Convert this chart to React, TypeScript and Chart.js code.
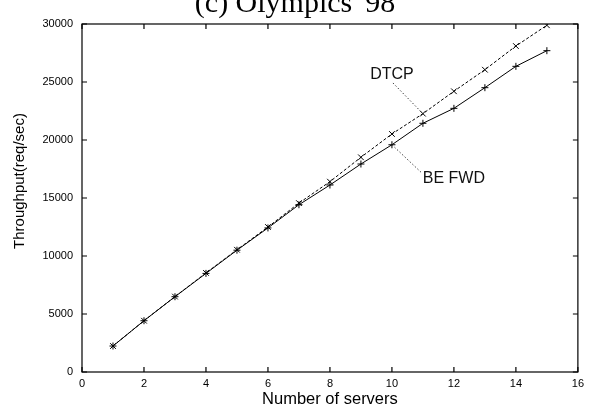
import React, { useEffect, useRef } from "react";
import { Chart, registerables } from "chart.js";

Chart.register(...registerables);

// ---- data ----
const servers = [1, 2, 3, 4, 5, 6, 7, 8, 9, 10, 11, 12, 13, 14, 15];
const dtcp = [2240, 4420, 6500, 8540, 10540, 12500, 14560, 16410, 18510, 20520, 22270, 24200, 26060, 28100, 29890];
const beFwd = [2240, 4420, 6490, 8500, 10500, 12420, 14420, 16120, 17930, 19590, 21440, 22730, 24510, 26350, 27700];
const seriesNames = ["DTCP", "BE FWD"];
const titleText = "(c) Olympics '98";
const xTitle = "Number of servers";
const yTitle = "Throughput(req/sec)";

// annotation placement (in data units) and leader-line anchor index
const annotLabelX = [10, 12];
const annotLabelY = [25650, 16640];
const annotIndex = [10, 9];

const SANS = "'Liberation Sans', Arial, Helvetica, sans-serif";

const framePlugin = {
  id: "gnuplotFrame",
  afterDraw(chart: any) {
    const { ctx, chartArea } = chart;
    const { left, right, top, bottom } = chartArea;
    const xs = chart.scales.x;
    const ys = chart.scales.y;
    ctx.save();
    ctx.strokeStyle = "#000";
    ctx.lineWidth = 1.2;
    ctx.setLineDash([]);
    ctx.strokeRect(left, top, right - left, bottom - top);
    const tl = 5;
    ctx.beginPath();
    xs.ticks.forEach((t: any) => {
      const px = xs.getPixelForValue(t.value);
      ctx.moveTo(px, bottom);
      ctx.lineTo(px, bottom - tl);
      ctx.moveTo(px, top);
      ctx.lineTo(px, top + tl);
    });
    ys.ticks.forEach((t: any) => {
      const py = ys.getPixelForValue(t.value);
      ctx.moveTo(left, py);
      ctx.lineTo(left + tl, py);
      ctx.moveTo(right, py);
      ctx.lineTo(right - tl, py);
    });
    ctx.stroke();

    // annotations
    ctx.font = `16px ${SANS}`;
    ctx.fillStyle = "#111";
    ctx.textBaseline = "middle";
    ctx.textAlign = "center";
    const seriesData = [dtcp, beFwd];
    seriesNames.forEach((name, i) => {
      const cx = xs.getPixelForValue(annotLabelX[i]);
      const cy = ys.getPixelForValue(annotLabelY[i]);
      ctx.fillText(name, cx, cy);
      const w = ctx.measureText(name).width;
      const idx = annotIndex[i];
      const px = xs.getPixelForValue(servers[idx]);
      const py = ys.getPixelForValue(seriesData[i][idx]);
      ctx.save();
      ctx.strokeStyle = "#444";
      ctx.lineWidth = 1;
      ctx.setLineDash([1.5, 2]);
      ctx.beginPath();
      if (py > cy) {
        ctx.moveTo(cx + 1, cy + 8.5);
        ctx.lineTo(px, py);
      } else {
        ctx.moveTo(px, py);
        ctx.lineTo(cx - w / 2 - 1, cy - 6);
      }
      ctx.stroke();
      ctx.restore();
    });

    // axis titles
    ctx.fillStyle = "#000";
    ctx.font = `16.5px ${SANS}`;
    ctx.textAlign = "center";
    ctx.textBaseline = "middle";
    ctx.fillText(xTitle, (left + right) / 2, 399);
    ctx.save();
    ctx.translate(20, 181);
    ctx.rotate(-Math.PI / 2);
    ctx.font = `15px ${SANS}`;
    ctx.fillText(yTitle, 0, 0);
    ctx.restore();

    // chart title (clipped at top as in the original)
    ctx.font = `30px 'Liberation Serif', 'Times New Roman', serif`;
    ctx.textAlign = "center";
    ctx.textBaseline = "alphabetic";
    ctx.fillText(titleText, 295, 12);
    ctx.restore();
  },
};

const plainTick = (v: any) => String(v);

export default function App() {
  const ref = useRef<HTMLCanvasElement | null>(null);
  useEffect(() => {
    if (!ref.current) return;
    const chart = new Chart(ref.current, {
      type: "line",
      data: {
        labels: servers,
        datasets: [
          {
            label: seriesNames[0],
            data: servers.map((x, i) => ({ x, y: dtcp[i] })),
            borderColor: "#000",
            borderWidth: 1,
            borderDash: [3, 2],
            pointStyle: "crossRot",
            pointRadius: 4,
            pointBorderColor: "#000",
            pointBorderWidth: 1,
            fill: false,
            tension: 0,
          },
          {
            label: seriesNames[1],
            data: servers.map((x, i) => ({ x, y: beFwd[i] })),
            borderColor: "#000",
            borderWidth: 1,
            pointStyle: "cross",
            pointRadius: 3.5,
            pointBorderColor: "#000",
            pointBorderWidth: 1,
            fill: false,
            tension: 0,
          },
        ],
      },
      options: {
        animation: false,
        responsive: false,
        maintainAspectRatio: false,
        layout: { padding: { left: 0, right: 9, top: 24, bottom: 0 } },
        plugins: {
          legend: { display: false },
          tooltip: { enabled: false },
          title: { display: false },
        },
        scales: {
          x: {
            type: "linear",
            min: 0,
            max: 16,
            ticks: {
              stepSize: 2,
              color: "#000",
              font: { family: SANS, size: 11 },
              padding: 5,
              maxRotation: 0,
              callback: plainTick,
            },
            grid: { display: false, drawTicks: false },
            border: { display: false },
            afterFit: (s: any) => {
              s.height = 41;
            },
          },
          y: {
            type: "linear",
            min: 0,
            max: 30000,
            ticks: {
              stepSize: 5000,
              color: "#000",
              font: { family: SANS, size: 11 },
              padding: 9,
              callback: plainTick,
            },
            grid: { display: false, drawTicks: false },
            border: { display: false },
            afterFit: (s: any) => {
              s.width = 82;
            },
          },
        },
      },
      plugins: [framePlugin],
    });
    return () => chart.destroy();
  }, []);
  return (
    <div style={{ position: "absolute", left: 0, top: 0, width: 589, height: 413, background: "#fff" }}>
      <canvas ref={ref} width={589} height={413} style={{ width: 589, height: 413, display: "block" }} />
    </div>
  );
}
